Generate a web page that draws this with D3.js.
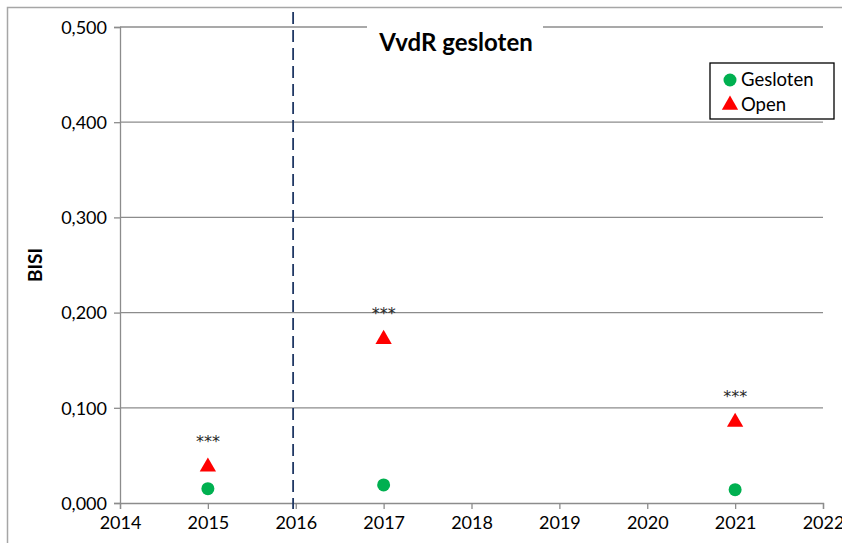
<!DOCTYPE html>
<html>
<head>
<meta charset="utf-8">
<script src="https://cdn.jsdelivr.net/npm/d3@7"></script>
<style>
  body { margin:0; background:#fff; }
  text { font-family: Lato, "Open Sans", sans-serif; }
</style>
</head>
<body>
<div id="chart"></div>
<script>
// data
var years = [2015, 2017, 2021];
var gesloten = [0.015, 0.019, 0.014];
var open = [0.038, 0.172, 0.085];
var stars = ["***", "***", "***"];
var yTicks = [0, 0.1, 0.2, 0.3, 0.4, 0.5];
var xTicks = [2014, 2015, 2016, 2017, 2018, 2019, 2020, 2021, 2022];
var closedAt = 2015.97;

var W = 842, H = 543;
var m = {top:27, right:19, bottom:40, left:120};

var svg = d3.select("#chart").append("svg").attr("width", W).attr("height", H);

// outer frame
svg.append("rect").attr("x", 7.5).attr("y", 7.5).attr("width", W + 10).attr("height", H + 10)
    .style("fill", "none").style("stroke", "#a6a6a6").style("stroke-width", 1.5);

var x = d3.scaleLinear().domain([2014, 2022]).range([m.left, 823]);
var y = d3.scaleLinear().domain([0, 0.5]).range([503, m.top]);
var fmt = function(d){ return d3.format(".3f")(d).replace(".", ","); };

// gridlines
svg.append("g").selectAll("line").data(yTicks.slice(1)).enter().append("line")
    .attr("x1", x(2014)).attr("x2", x(2022))
    .attr("y1", function(d){ return y(d); }).attr("y2", function(d){ return y(d); })
    .style("stroke", "#8c8c8c").style("stroke-width", 1.3);

// y axis
var ya = svg.append("g").attr("transform", "translate(" + x(2014) + ",0)")
    .call(d3.axisLeft(y).tickValues(yTicks).tickFormat(fmt).tickSize(6).tickPadding(7));
ya.select(".domain").style("stroke", "#8c8c8c").style("stroke-width", 1.3);
ya.selectAll(".tick line").style("stroke", "#8c8c8c").style("stroke-width", 1.3);
ya.selectAll("text").style("font-size", "18px").style("fill", "#000").attr("dy", "0.35em");

// x axis
var xa = svg.append("g").attr("transform", "translate(0," + y(0) + ")")
    .call(d3.axisBottom(x).tickValues(xTicks).tickFormat(d3.format("d")).tickSize(6).tickPadding(7));
xa.select(".domain").style("stroke", "#8c8c8c").style("stroke-width", 1.3);
xa.selectAll(".tick line").style("stroke", "#8c8c8c").style("stroke-width", 1.3);
xa.selectAll("text").style("font-size", "18px").style("fill", "#000");

// y label
svg.append("text").attr("transform", "translate(42," + y(0.25) + ") rotate(-90)")
    .attr("text-anchor", "middle").style("font-size", "19px").style("font-weight", "bold").text("BISI");

// dashed closure line
svg.append("line").attr("x1", x(closedAt)).attr("x2", x(closedAt))
    .attr("y1", 12).attr("y2", y(0) + 6)
    .style("stroke", "#203864").style("stroke-width", 1.8).style("stroke-dasharray", "12,6");

// title with white background
svg.append("rect").attr("x", 367).attr("y", 18).attr("width", 176).attr("height", 36).style("fill", "#fff");
svg.append("text").attr("x", 456).attr("y", 51).attr("text-anchor", "middle")
    .style("font-size", "24px").style("font-weight", "bold").text("VvdR gesloten");

// stars
svg.append("g").selectAll("text").data(years).enter().append("text")
    .attr("x", function(d){ return x(d); })
    .attr("y", function(d, i){ return y(open[i]) - 20; })
    .attr("text-anchor", "middle").style("font-family", "'DejaVu Sans', sans-serif")
    .style("font-size", "16px").style("fill", "#262626")
    .text(function(d, i){ return stars[i]; });

// markers
svg.append("g").selectAll("circle").data(years).enter().append("circle")
    .attr("cx", function(d){ return x(d); })
    .attr("cy", function(d, i){ return y(gesloten[i]); })
    .attr("r", 6.5).style("fill", "#00b050");

var tri = d3.symbol().type(d3.symbolTriangle).size(115);
svg.append("g").selectAll("path").data(years).enter().append("path")
    .attr("d", tri)
    .attr("transform", function(d, i){ return "translate(" + x(d) + "," + y(open[i]) + ")"; })
    .style("fill", "#ff0000");

// legend
var lg = svg.append("g").attr("transform", "translate(710,63)");
lg.append("rect").attr("width", 124).attr("height", 56)
    .style("fill", "#fff").style("stroke", "#000").style("stroke-width", 1.3);
lg.append("circle").attr("cx", 20).attr("cy", 17).attr("r", 6.5).style("fill", "#00b050");
lg.append("path").attr("d", tri).attr("transform", "translate(20,42)").style("fill", "#ff0000");
lg.append("text").attr("x", 31).attr("y", 23).style("font-size", "18.5px").text("Gesloten");
lg.append("text").attr("x", 31).attr("y", 48).style("font-size", "18.5px").text("Open");
</script>
</body>
</html>
